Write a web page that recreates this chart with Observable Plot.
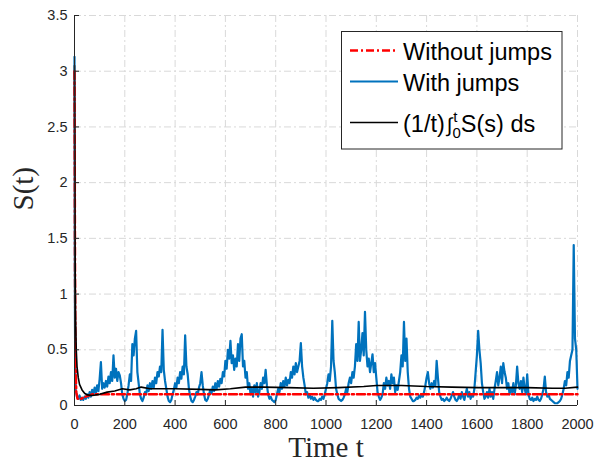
<!DOCTYPE html>
<html>
<head>
<meta charset="utf-8">
<script src="https://cdn.jsdelivr.net/npm/d3@7"></script>
<script src="https://cdn.jsdelivr.net/npm/@observablehq/plot@0.6"></script>
<style>
  html, body { margin: 0; padding: 0; background: #fff; }
  #chart { position: relative; width: 595px; height: 464px; }
</style>
</head>
<body>
<div id="chart"></div>
<script>
// ---- tick labels ----
const xTicks = [0, 200, 400, 600, 800, 1000, 1200, 1400, 1600, 1800, 2000];
const yTicks = [0, 0.5, 1, 1.5, 2, 2.5, 3, 3.5];

// ---- legend labels ----
const legendLabels = ["Without jumps", "With jumps", "(1/t)∫S(s) ds"];

// ---- "With jumps" series: first few samples, then one sample every 5 time units (t = 5 ... 2000) ----
const blueHeadT = [0, 1, 2, 3];
const blueHeadS = [3.13, 1.6, 0.7, 0.3];
const blueStep = 5;
const blueS = [
  0.14,0.08,0.06,0.09,0.05,0.07,0.05,0.08,0.06,0.10,0.07,0.12,0.08,0.14,0.10,0.16,0.11,0.18,0.13,0.24,
  0.39,0.15,0.20,0.16,0.22,0.17,0.26,0.20,0.30,0.22,0.45,0.25,0.33,0.22,0.30,0.27,0.20,0.10,0.06,0.04,
  0.05,0.10,0.18,0.28,0.22,0.55,0.45,0.60,0.67,0.30,0.20,0.10,0.06,0.04,0.07,0.12,0.10,0.18,0.13,0.20,
  0.15,0.22,0.16,0.25,0.20,0.30,0.26,0.35,0.30,0.68,0.32,0.22,0.15,0.08,0.04,0.03,0.05,0.10,0.14,0.20,
  0.16,0.25,0.20,0.30,0.24,0.35,0.28,0.63,0.35,0.28,0.15,0.08,0.04,0.03,0.05,0.08,0.12,0.10,0.16,0.20,
  0.30,0.18,0.10,0.05,0.04,0.06,0.10,0.14,0.11,0.17,0.13,0.20,0.15,0.22,0.17,0.24,0.20,0.30,0.26,0.40,
  0.33,0.50,0.42,0.58,0.38,0.45,0.32,0.42,0.35,0.55,0.40,0.60,0.64,0.35,0.40,0.25,0.30,0.15,0.20,0.10,
  0.15,0.08,0.18,0.12,0.20,0.08,0.12,0.20,0.15,0.25,0.20,0.32,0.18,0.10,0.06,0.08,0.05,0.04,0.03,0.05,
  0.10,0.15,0.12,0.20,0.15,0.22,0.17,0.25,0.18,0.23,0.20,0.30,0.25,0.35,0.28,0.38,0.30,0.35,0.40,0.56,
  0.35,0.25,0.18,0.10,0.12,0.07,0.10,0.06,0.08,0.05,0.07,0.05,0.04,0.04,0.06,0.05,0.08,0.06,0.10,0.15,
  0.20,0.28,0.22,0.35,0.76,0.40,0.30,0.15,0.10,0.06,0.05,0.04,0.05,0.07,0.10,0.15,0.12,0.20,0.25,0.20,
  0.30,0.25,0.35,0.55,0.40,0.75,0.40,0.50,0.65,0.45,0.84,0.50,0.35,0.42,0.30,0.38,0.46,0.30,0.38,0.25,
  0.12,0.08,0.05,0.07,0.10,0.20,0.15,0.25,0.18,0.22,0.15,0.28,0.20,0.25,0.12,0.18,0.14,0.22,0.30,0.45,
  0.35,0.75,0.40,0.60,0.30,0.15,0.08,0.06,0.04,0.04,0.05,0.07,0.06,0.09,0.07,0.10,0.08,0.12,0.18,0.25,
  0.30,0.20,0.15,0.20,0.16,0.22,0.18,0.40,0.25,0.12,0.08,0.05,0.06,0.04,0.05,0.07,0.05,0.04,0.06,0.09,
  0.12,0.08,0.05,0.04,0.06,0.10,0.06,0.12,0.08,0.05,0.10,0.15,0.08,0.12,0.06,0.10,0.08,0.15,0.30,0.45,
  0.67,0.50,0.38,0.20,0.12,0.06,0.08,0.12,0.07,0.15,0.08,0.12,0.06,0.15,0.22,0.30,0.18,0.25,0.35,0.20,
  0.38,0.30,0.25,0.15,0.20,0.10,0.16,0.12,0.20,0.10,0.18,0.35,0.20,0.15,0.22,0.12,0.25,0.15,0.10,0.28,
  0.10,0.06,0.05,0.07,0.04,0.06,0.05,0.08,0.05,0.04,0.06,0.10,0.15,0.26,0.12,0.08,0.10,0.06,0.05,0.04,
  0.03,0.02,0.02,0.02,0.03,0.04,0.06,0.10,0.15,0.22,0.18,0.30,0.25,0.40,0.45,0.50,1.44,0.60,0.50,0.15
];

// ---- "Without jumps" series ----
const redT = [0, 2, 4, 7, 12, 25, 45, 70, 2000];
const redS = [3.0, 1.2, 0.4, 0.12, 0.06, 0.06, 0.08, 0.1, 0.1];

// ---- running average (1/t)∫S ----
const avgT = [0, 2, 4, 7, 10, 15, 20, 30, 40, 50, 70, 100, 130, 160, 190, 220, 245, 265, 300, 400, 500, 560, 620, 680, 750, 850, 950, 1050, 1150, 1200, 1300, 1400, 1500, 1600, 1700, 1800, 1900, 1950, 2000];
const avgS = [3.05, 1.5, 0.8, 0.5, 0.35, 0.25, 0.19, 0.14, 0.11, 0.095, 0.09, 0.1, 0.12, 0.13, 0.15, 0.14, 0.15, 0.165, 0.15, 0.15, 0.145, 0.14, 0.15, 0.165, 0.165, 0.16, 0.155, 0.16, 0.17, 0.18, 0.18, 0.17, 0.165, 0.16, 0.16, 0.16, 0.155, 0.155, 0.165];

// ---- build tables ----
const blue = blueHeadT.map((t, i) => ({t, s: blueHeadS[i]}))
  .concat(blueS.map((s, i) => ({t: (i + 1) * blueStep, s})));
const red = redT.map((t, i) => ({t, s: redS[i]}));
const avg = avgT.map((t, i) => ({t, s: avgS[i]}));

const BLUE = "#0072BD", RED = "#FF0000", BLACK = "#000000", AXIS = "#262626";
const gridStyle = {stroke: "#d9d9d9", strokeOpacity: 1, strokeWidth: 1, strokeDasharray: "7,3,2,3"};
const serif = "'Liberation Serif', 'Times New Roman', serif";

const plot = Plot.plot({
  width: 595,
  height: 464,
  marginLeft: 74,
  marginRight: 18,
  marginTop: 15,
  marginBottom: 59,
  x: {domain: [0, 2000]},
  y: {domain: [0, 3.5]},
  style: {fontFamily: "'Liberation Sans', Arial, sans-serif", fontSize: "14.5px", color: AXIS, background: "#fff"},
  marks: [
    Plot.gridX(xTicks.slice(1), gridStyle),
    Plot.gridY(yTicks.slice(1), gridStyle),
    Plot.line(blue, {x: "t", y: "s", stroke: BLUE, strokeWidth: 2.2, strokeLinejoin: "round"}),
    Plot.line(red, {x: "t", y: "s", stroke: RED, strokeWidth: 2.5, strokeDasharray: "8,3,2,3"}),
    Plot.line(avg, {x: "t", y: "s", stroke: BLACK, strokeWidth: 1.6}),
    Plot.ruleX([0], {stroke: AXIS, strokeWidth: 1}),
    Plot.ruleY([0], {stroke: AXIS, strokeWidth: 1}),
    Plot.ruleX(xTicks, {x: d => d, y1: 0, y2: 0.045, stroke: AXIS}),
    Plot.ruleY(yTicks, {y: d => d, x1: 0, x2: 20, stroke: AXIS}),
    Plot.axisX(xTicks, {tickSize: 0, tickPadding: 13, label: null, tickFormat: d => String(d)}),
    Plot.axisY(yTicks, {tickSize: 0, tickPadding: 7, label: null, tickFormat: d => String(d)}),
    Plot.text(["Time t"], {frameAnchor: "bottom", lineAnchor: "middle", dy: 42, fontFamily: serif, fontSize: 29, fill: AXIS}),
    Plot.text(["S(t)"], {frameAnchor: "left", lineAnchor: "middle", dx: -51, rotate: -90, fontFamily: serif, fontSize: 29, fill: AXIS})
  ]
});

document.getElementById("chart").appendChild(plot);

// ---- legend ----
const svg = d3.select(plot);
const lg = svg.append("g")
  .attr("font-family", "'Liberation Sans', Arial, sans-serif")
  .attr("font-size", 23.5)
  .attr("text-anchor", "start")
  .attr("fill", "#000");
lg.append("rect").attr("x", 341.5).attr("y", 31.5).attr("width", 220.5).attr("height", 117.5)
  .attr("fill", "#fff").attr("stroke", AXIS).attr("stroke-width", 1);
const rows = [
  {y: 50.5, stroke: RED, w: 2.5, dash: "8,3,2,3", ty: 59.5},
  {y: 81.5, stroke: BLUE, w: 2.2, dash: null, ty: 90.5},
  {y: 122.5, stroke: BLACK, w: 1.6, dash: null, ty: 131.5}
];
rows.forEach((r, i) => {
  const l = lg.append("line").attr("x1", 350).attr("x2", 398).attr("y1", r.y).attr("y2", r.y)
    .attr("stroke", r.stroke).attr("stroke-width", r.w);
  if (r.dash) l.attr("stroke-dasharray", r.dash);
  if (i < 2) {
    lg.append("text").attr("x", 403).attr("y", r.ty).text(legendLabels[i]);
  }
});
// third label with limits on the integral
const lbl = legendLabels[2];
const t3 = lg.append("text").attr("x", 403).attr("y", rows[2].ty);
t3.append("tspan").text(lbl.slice(0, 5));
t3.append("tspan").attr("dx", 2).attr("font-size", 20).text(lbl.slice(5, 6));
t3.append("tspan").attr("font-size", 15).attr("dx", 1).attr("dy", -10).text("t");
t3.append("tspan").attr("font-size", 15).attr("dx", -5).attr("dy", 16).text("0");
t3.append("tspan").attr("dy", -6).text(lbl.slice(6));
</script>
</body>
</html>
